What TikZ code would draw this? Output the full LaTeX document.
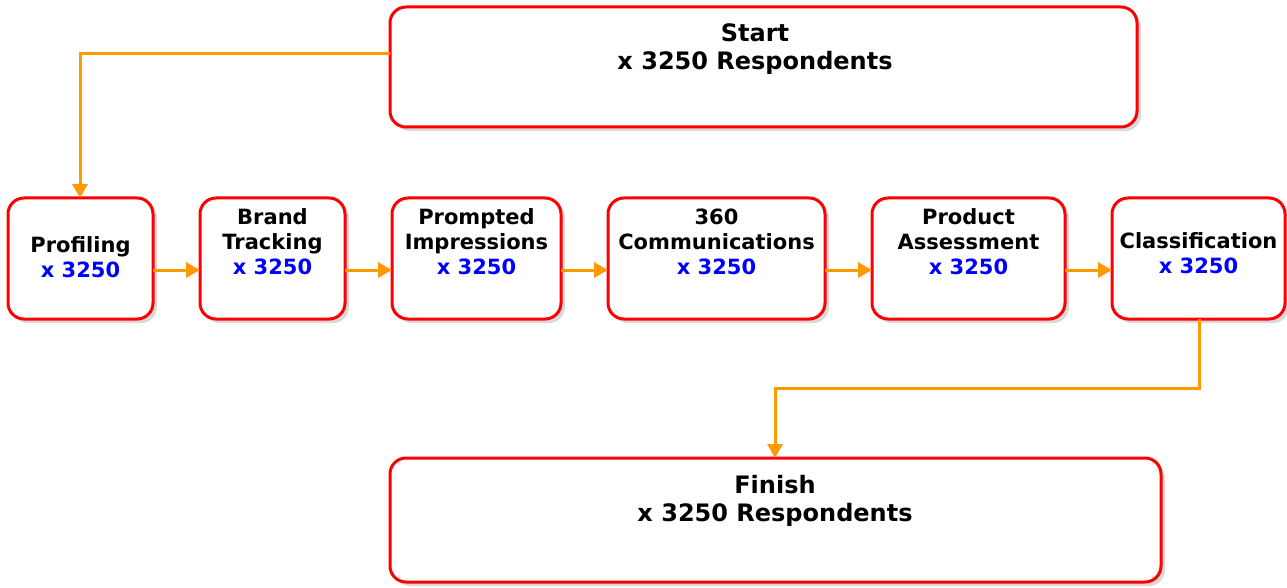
\documentclass[tikz,border=0pt]{standalone}
\usepackage{fontspec}
\setmainfont{DejaVu Sans}
\usetikzlibrary{arrows.meta,shadows}
\definecolor{boxred}{HTML}{FF0000}
\definecolor{flow}{HTML}{FF9900}
\definecolor{numblue}{HTML}{0000FF}
\begin{document}
\begin{tikzpicture}[x=1pt,y=-1pt,
  box/.style={draw=boxred, line width=3pt, rounded corners=16pt, fill=white,
    drop shadow={shadow xshift=4pt, shadow yshift=-4pt, fill=black!15, opacity=1}},
  small/.style={font=\fontsize{21}{25}\selectfont\bfseries, align=center, anchor=base, inner sep=0pt},
  big/.style={font=\fontsize{24}{28}\selectfont\bfseries, align=center, anchor=base, inner sep=0pt},
  flowline/.style={draw=flow, line width=3pt, -{Triangle[length=14pt,width=15pt]}}
]
\useasboundingbox (0,0) rectangle (1287,588);
% boxes
\draw[box] (390,7) rectangle (1137,127);
\draw[box] (8,198) rectangle (153,319);
\draw[box] (200,198) rectangle (345,319);
\draw[box] (392,198) rectangle (561,319);
\draw[box] (608,198) rectangle (825,319);
\draw[box] (872,198) rectangle (1065,319);
\draw[box] (1112,198) rectangle (1285,319);
\draw[box] (390,458) rectangle (1161,582);
% named anchor points of boxes
\coordinate (startW) at (390,54);
\coordinate (profN) at (80,198);
\coordinate (profE) at (153,270);
\coordinate (brandW) at (200,270);
\coordinate (brandE) at (345,270);
\coordinate (promW) at (392,270);
\coordinate (promE) at (561,270);
\coordinate (commW) at (608,270);
\coordinate (commE) at (825,270);
\coordinate (prodW) at (872,270);
\coordinate (prodE) at (1065,270);
\coordinate (clasW) at (1112,270);
\coordinate (clasS) at (1199,319);
\coordinate (bend) at (1199,388);
\coordinate (finN) at (775,458);
% texts (anchored at the baseline of the last line)
\node[big] (tstart) at (755,70) {Start\\x 3250 Respondents};
\node[small] (tprof) at (80.5,277) {Profiling\\\textcolor{numblue}{x 3250}};
\node[small] (tbrand) at (272.5,274) {Brand\\Tracking\\\textcolor{numblue}{x 3250}};
\node[small] (tprom) at (476.5,274) {Prompted\\Impressions\\\textcolor{numblue}{x 3250}};
\node[small] (tcomm) at (716.5,274) {360\\Communications\\\textcolor{numblue}{x 3250}};
\node[small] (tprod) at (968.5,274) {Product\\Assessment\\\textcolor{numblue}{x 3250}};
\node[small] (tclas) at (1198.5,273.5) {Classification\\\textcolor{numblue}{x 3250}};
\node[big] (tfin) at (775,521.5) {Finish\\x 3250 Respondents};
% connectors
\draw[flowline] (startW) -| (profN);
\draw[flowline] (profE) -- (brandW);
\draw[flowline] (brandE) -- (promW);
\draw[flowline] (promE) -- (commW);
\draw[flowline] (commE) -- (prodW);
\draw[flowline] (prodE) -- (clasW);
\draw[flowline] (clasS) -- (bend) -| (finN);
\end{tikzpicture}
\end{document}
